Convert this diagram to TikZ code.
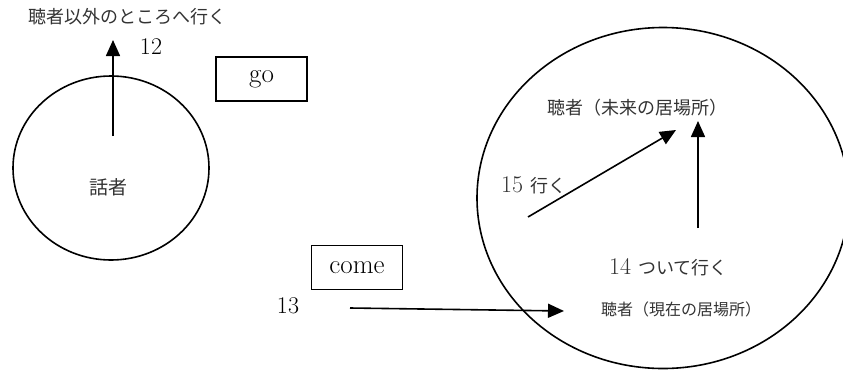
\documentclass[tikz,border=0pt]{standalone}
\usepackage{fontspec}
\newfontfamily\jp{Noto Sans CJK JP}
\usetikzlibrary{arrows.meta}
\newcommand\jpbig{\jp\fontsize{18}{21}\selectfont}
\newcommand\numfont{\fontsize{24}{27}\selectfont}
\tikzset{
  stroke/.style={line width=1.6pt},
  arr/.style={stroke,-{Triangle[length=16pt,width=14pt]}},
  jtext/.style={inner sep=0pt,text=black!80,font=\jpbig},
  num/.style={inner sep=0pt,font=\numfont},
  word/.style={draw,stroke,minimum width=91pt,minimum height=44pt,inner sep=0pt,font=\fontsize{27}{30}\selectfont}
}
\begin{document}
\begin{tikzpicture}[x=1pt,y=-1pt]
\useasboundingbox (0,0) rectangle (843,370);
\clip (0,0) rectangle (843,370);
% speaker and listener regions
\draw[stroke] (111,168) ellipse [x radius=98, y radius=92];
\draw[stroke] (663,198) ellipse [x radius=186, y radius=170.5];
% labels
\node[jtext,anchor=west] (away) at (28,17) {聴者以外のところへ行く};
\node[num] (n12) at (151,47) {12};
\node[word] (go) at (261.5,79) {go};
\node[jtext,font=\jp\fontsize{19}{22}\selectfont] (speaker) at (108,187) {話者};
\node[word] (come) at (357,267.5) {come};
\node[num] (n13) at (288,306) {13};
\node[jtext,anchor=west] (future) at (547,108) {聴者（未来の居場所）};
\node[anchor=west,inner sep=0pt,text=black!80] (n15) at (501,185) {{\numfont 15}\hspace{7pt}{\jpbig 行く}};
\node[anchor=west,inner sep=0pt,text=black!80] (n14) at (609,267) {{\numfont 14}\hspace{7pt}{\jpbig ついて行く}};
\node[jtext,anchor=west,font=\jp\fontsize{16}{18}\selectfont] (present) at (601,309) {聴者（現在の居場所）};
% movement arrows
\coordinate (s12) at (113,136);
\coordinate (e12) at (113,40);
\coordinate (s13) at (350,308);
\coordinate (e13) at (564,311);
\coordinate (s15) at (528,217);
\coordinate (e15) at (676,130);
\coordinate (s14) at (698,228);
\coordinate (e14) at (698,121);
\draw[arr] (s12) -- (e12);
\draw[arr] (s13) -- (e13);
\draw[arr] (s15) -- (e15);
\draw[arr] (s14) -- (e14);
\end{tikzpicture}
\end{document}
